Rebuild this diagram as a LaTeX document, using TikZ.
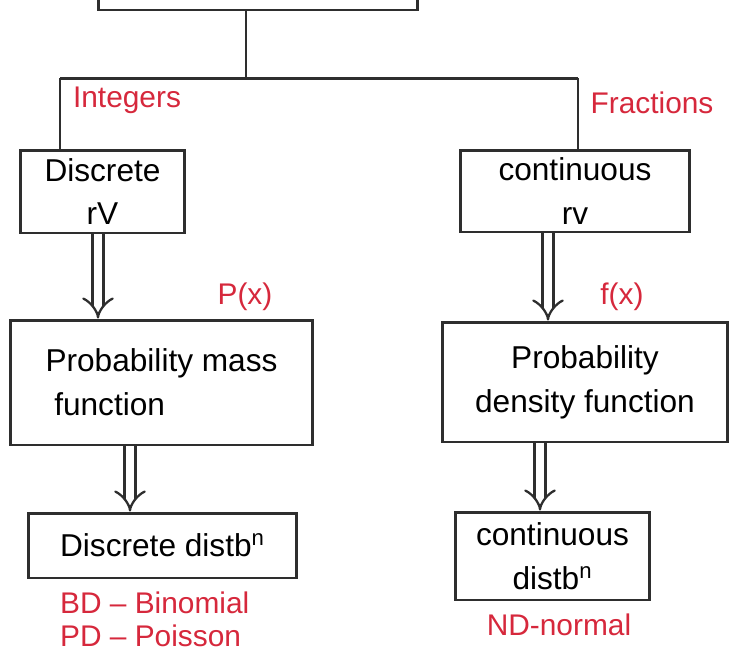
\documentclass[tikz,border=0pt]{standalone}
\usepackage{fontspec}
\setmainfont{Liberation Sans}
\usetikzlibrary{arrows.meta}

\definecolor{ink}{HTML}{2E2E2E}
\definecolor{pen}{HTML}{D6283C}

\begin{document}
\begin{tikzpicture}[
    x=0.02cm, y=-0.02cm,
    % Styles
    box/.style={draw=ink, line width=1.7pt, align=center, inner sep=2pt,
                font=\fontsize{18}{25}\selectfont},
    note/.style={text=pen, font=\fontsize{17}{21}\selectfont, inner sep=1pt},
    link/.style={draw=ink, line width=1.7pt},
    arrow/.style={draw=ink, line width=1.3pt, double, double distance=5pt,
                  -{Implies[length=9pt, width=22pt]}}
]
\useasboundingbox (0,0) rectangle (731,664);
\clip (0,0) rectangle (731,664);

% --- OBEN: Kasten (abgeschnitten) und Verzweigung ---
\node[box, minimum width=6.4cm, minimum height=1.0cm] (top) at (258,-15) {};
\coordinate (split) at (246,78);
\coordinate (lft) at (60,78);
\coordinate (rgt) at (578,78);

\draw[link] (top.south -| split) -- (split);
\draw[link] (lft) -- (rgt);

\node[note] (int) at (127,100) {Integers};
\node[note] (frac) at (652,103) {Fractions};

% --- MITTE: Zufallsvariablen ---
\node[box, minimum width=3.3cm, minimum height=1.66cm] (drv) at (102.5,191.5) {Discrete\\rV};
\node[box, minimum width=4.6cm, minimum height=1.64cm] (crv) at (575,191) {continuous\\rv};

\draw[link] (lft) -- (lft |- drv.north);
\draw[link] (rgt) -- (rgt |- crv.north);

% Funktionen
\node[box, align=left, minimum width=6.06cm, minimum height=2.5cm] (pmf) at (161.5,382.5)
    {Probability mass\\ \ function};
\node[box, minimum width=5.72cm, minimum height=2.4cm] (pdf) at (585,382)
    {Probability\\density function};

\draw[arrow] ([xshift=-0.09cm]drv.south) -- ([xshift=-0.09cm]drv.south |- pmf.north);
\draw[arrow] ([xshift=-0.54cm]crv.south) -- ([xshift=-0.54cm]crv.south |- pdf.north);

\node[note] (px) at (245,297) {P(x)};
\node[note] (fx) at (622,297) {f(x)};

% --- UNTEN: Verteilungen ---
\node[box, minimum width=5.38cm, minimum height=1.3cm] (dd) at (162.5,545.5) {Discrete distb\textsuperscript{n}};
\node[box, minimum width=3.9cm, minimum height=1.76cm] (cd) at (552.5,556) {continuous\\distb\textsuperscript{n}};

\draw[arrow] ([xshift=-0.63cm]pmf.south) -- ([xshift=-0.63cm]pmf.south |- dd.north);
\draw[arrow] ([xshift=-0.9cm]pdf.south) -- ([xshift=-0.9cm]pdf.south |- cd.north);

\node[note, anchor=west] (bd) at (58,603) {BD -- Binomial};
\node[note, anchor=west] (pd) at (58,636) {PD -- Poisson};
\node[note] (nd) at (559,625) {ND-normal};

\end{tikzpicture}
\end{document}
